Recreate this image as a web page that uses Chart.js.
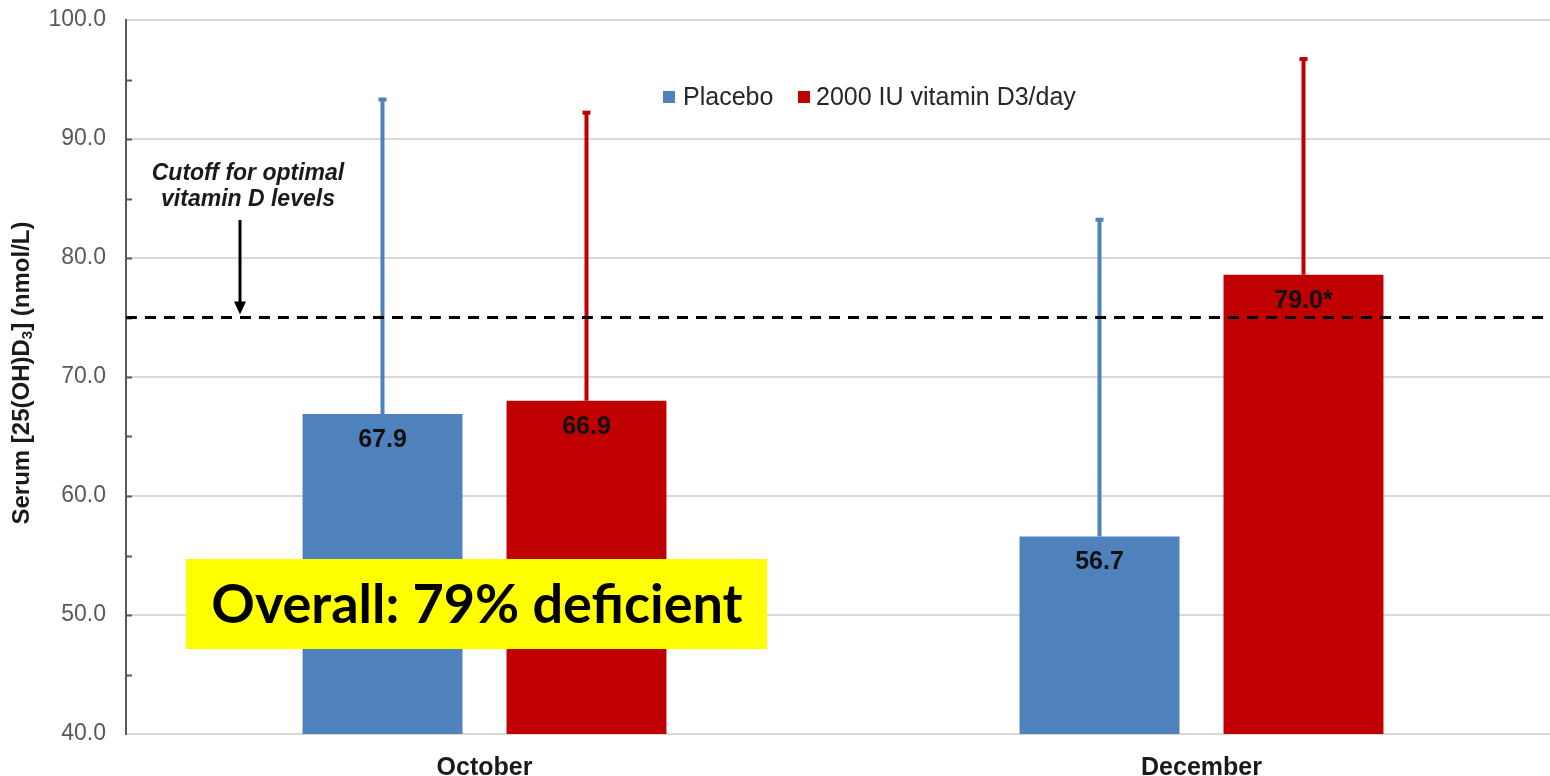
<!DOCTYPE html>
<html>
<head>
<meta charset="utf-8">
<script src="https://cdn.jsdelivr.net/npm/chart.js@4"></script>
<style>
  html, body { margin: 0; padding: 0; background: #fff; overflow: hidden; }
  #wrap { width: 1560px; height: 776px; position: relative; }
</style>
</head>
<body>
<div id="wrap"><canvas id="chart"></canvas></div>
<script>
// data
const months = ['October', 'December'];
const placebo = [66.9, 56.6];
const vitaminD = [68.0, 78.6];
const placeboErrTop = [93.4, 83.3];
const vitaminDErrTop = [92.3, 96.8];
// labels printed on the bars (as shown in the original)
const placeboLabels = ['67.9', '56.7'];
const vitaminDLabels = ['66.9', '79.0*'];
const cutoff = 75;
const yTicks = [40, 50, 60, 70, 80, 90, 100];

const BLUE = '#4f81bd';
const RED = '#c00000';
const SANS = '"Liberation Sans", Arial, sans-serif';

const extras = {
    id: 'extras',
    afterDatasetsDraw(chart) {
        const ctx = chart.ctx;
        const y = chart.scales.y;
        const area = chart.chartArea;

        // minor tick marks on the y axis
        ctx.save();
        ctx.strokeStyle = '#595959';
        ctx.lineWidth = 2;
        for (let v = 45; v < 100; v += 5) {
            const py = Math.round(y.getPixelForValue(v)) + 0.5;
            ctx.beginPath();
            ctx.moveTo(area.left, py);
            ctx.lineTo(area.left + 6, py);
            ctx.stroke();
        }
        ctx.restore();

        // error bars
        const groups = [[0, placeboErrTop, BLUE], [1, vitaminDErrTop, RED]];
        groups.forEach(([di, tops, color]) => {
            const meta = chart.getDatasetMeta(di);
            meta.data.forEach((bar, i) => {
                const x = bar.x;
                const yTop = y.getPixelForValue(tops[i]);
                ctx.save();
                ctx.strokeStyle = color;
                ctx.lineWidth = 4;
                ctx.beginPath();
                ctx.moveTo(x, bar.y);
                ctx.lineTo(x, yTop);
                ctx.stroke();
                ctx.fillStyle = color;
                ctx.fillRect(x - 4, yTop - 1, 8, 4);
                ctx.restore();
            });
        });

        // cutoff dashed line
        const cy = y.getPixelForValue(cutoff);
        ctx.save();
        ctx.strokeStyle = '#000';
        ctx.lineWidth = 3;
        ctx.setLineDash([11, 8]);
        ctx.beginPath();
        ctx.moveTo(area.left, cy);
        ctx.lineTo(area.right, cy);
        ctx.stroke();
        ctx.restore();

        // value labels inside bars
        const labelSets = [placeboLabels, vitaminDLabels];
        ctx.save();
        ctx.font = 'bold 25px ' + SANS;
        ctx.fillStyle = '#111';
        ctx.textAlign = 'center';
        ctx.textBaseline = 'middle';
        labelSets.forEach((labels, di) => {
            chart.getDatasetMeta(di).data.forEach((bar, i) => {
                ctx.fillText(labels[i], bar.x, bar.y + 26);
            });
        });
        ctx.restore();

        // cutoff annotation + arrow
        ctx.save();
        ctx.font = 'italic bold 23px ' + SANS;
        ctx.fillStyle = '#1a1a1a';
        ctx.textAlign = 'center';
        ctx.textBaseline = 'middle';
        ctx.fillText('Cutoff for optimal', 248, 174);
        ctx.fillText('vitamin D levels', 248, 200);
        ctx.strokeStyle = '#000';
        ctx.lineWidth = 3;
        ctx.beginPath();
        ctx.moveTo(240, 220);
        ctx.lineTo(240, cy - 14);
        ctx.stroke();
        ctx.fillStyle = '#000';
        ctx.beginPath();
        ctx.moveTo(234, cy - 16);
        ctx.lineTo(246, cy - 16);
        ctx.lineTo(240, cy - 3);
        ctx.closePath();
        ctx.fill();
        ctx.restore();

        // legend
        ctx.save();
        ctx.font = '25px ' + SANS;
        ctx.textBaseline = 'middle';
        ctx.fillStyle = BLUE;
        ctx.fillRect(663, 91, 12, 12);
        ctx.fillStyle = RED;
        ctx.fillRect(798, 91, 12, 12);
        ctx.fillStyle = '#262626';
        ctx.fillText('Placebo', 683, 98);
        ctx.fillText('2000 IU vitamin D3/day', 816, 98);
        ctx.restore();

        // yellow callout
        ctx.save();
        ctx.fillStyle = '#ffff00';
        ctx.fillRect(186, 559, 581, 90);
        ctx.font = 'bold 54px Lato, "Open Sans", sans-serif';
        ctx.fillStyle = '#000';
        ctx.textAlign = 'center';
        ctx.textBaseline = 'middle';
        ctx.fillText('Overall: 79% deficient', 477, 606);
        ctx.restore();

        // y axis title with subscript
        ctx.save();
        ctx.translate(22, 373);
        ctx.rotate(-Math.PI / 2);
        ctx.fillStyle = '#1a1a1a';
        ctx.textBaseline = 'middle';
        const big = 'bold 24px ' + SANS;
        const small = 'bold 15px ' + SANS;
        const parts = [['Serum [25(OH)D', big, 0], ['3', small, 6], ['] (nmol/L)', big, 0]];
        let total = 0;
        parts.forEach(p => { ctx.font = p[1]; total += ctx.measureText(p[0]).width; });
        let x = -total / 2;
        parts.forEach(p => {
            ctx.font = p[1];
            ctx.fillText(p[0], x, p[2]);
            x += ctx.measureText(p[0]).width;
        });
        ctx.restore();
    }
};

new Chart(document.getElementById('chart'), {
    type: 'bar',
    data: {
        labels: months,
        datasets: [
            { label: 'Placebo', data: placebo, backgroundColor: BLUE },
            { label: '2000 IU vitamin D3/day', data: vitaminD, backgroundColor: RED }
        ]
    },
    options: {
        responsive: true,
        maintainAspectRatio: false,
        animation: false,
        categoryPercentage: 0.569,
        barPercentage: 0.784,
        layout: { padding: { top: 20, right: 0, left: 0, bottom: 0 } },
        plugins: {
            legend: { display: false },
            tooltip: { enabled: false }
        },
        scales: {
            x: {
                grid: { display: false },
                border: { color: '#d9d9d9', width: 2 },
                ticks: {
                    font: { family: SANS, size: 25, weight: 'bold' },
                    color: '#1a1a1a',
                    padding: 11
                },
                afterFit(scale) {
                    scale.height = 42;
                    scale.paddingLeft = 0;
                    scale.paddingRight = 0;
                }
            },
            y: {
                min: 40,
                max: 100,
                afterBuildTicks(scale) { scale.ticks = yTicks.map(v => ({ value: v })); },
                grid: { color: '#d9d9d9', lineWidth: 2, drawTicks: false },
                border: { color: '#595959', width: 2 },
                ticks: {
                    font: { family: SANS, size: 23 },
                    color: '#595959',
                    padding: 20,
                    callback: v => Number(v).toFixed(1)
                },
                afterFit(scale) {
                    scale.width = 126;
                    scale.paddingTop = 0;
                    scale.paddingBottom = 0;
                }
            }
        }
    },
    plugins: [extras]
});
</script>
</body>
</html>
